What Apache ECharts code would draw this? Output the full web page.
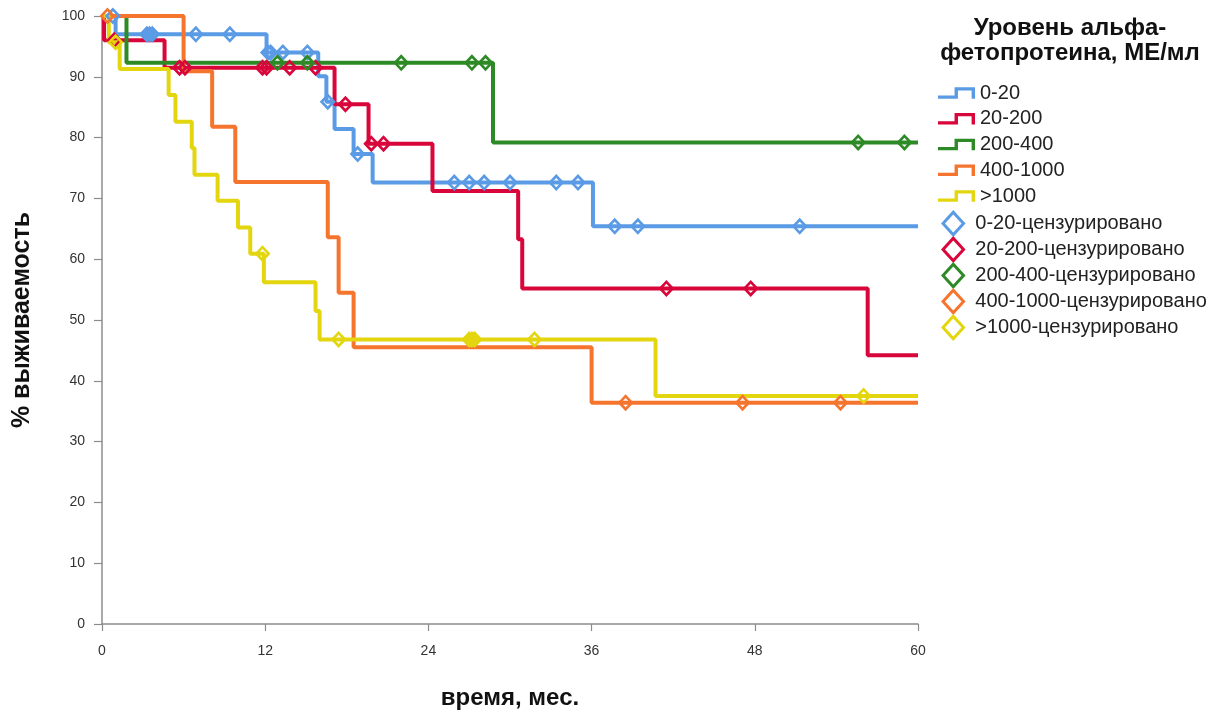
<!DOCTYPE html>
<html>
<head>
<meta charset="utf-8">
<script src="https://cdn.jsdelivr.net/npm/echarts@6/dist/echarts.min.js"></script>
<style>
html,body{margin:0;padding:0;background:#fff;}
#chart{width:1218px;height:715px;}
</style>
</head>
<body>
<div id="chart"></div>
<script>
// ---- Data ----
const groupNames = ['0-20', '20-200', '200-400', '400-1000', '>1000'];
const censorSuffix = '-цензурировано';
const colors = ['#5b9be6', '#d8063b', '#2e8a26', '#f5752f', '#e3d60f'];

// Kaplan–Meier steps: time (months) where survival changes, survival (%) from that time on
const times0_20   = [0, 1.0, 12.1, 15.9, 16.5, 17.1, 18.5, 19.9, 36.1, 60];
const surv0_20    = [100, 97.0, 94.0, 90.1, 85.9, 81.4, 77.3, 72.6, 65.4, 65.4];
const cens0_20    = [0.8, 3.3, 3.5, 3.7, 6.9, 9.4, 12.2, 12.4, 13.3, 15.1, 16.6, 18.8, 25.9, 27.0, 28.1, 30.0, 33.4, 35.0, 37.7, 39.4, 51.3];

const times20_200 = [0, 0.15, 4.6, 17.1, 19.6, 24.3, 30.6, 30.9, 56.3, 60];
const surv20_200  = [100, 96.0, 91.5, 85.5, 79.0, 71.2, 63.3, 55.2, 44.2, 44.2];
const cens20_200  = [0.9, 5.7, 6.1, 11.8, 12.1, 13.8, 15.7, 17.9, 19.8, 20.7, 41.5, 47.7];

const times200_400 = [0, 1.8, 28.75, 60];
const surv200_400  = [100, 92.3, 79.2, 79.2];
const cens200_400  = [12.9, 15.1, 22.0, 27.2, 28.2, 55.6, 59.0];

const times400_1000 = [0, 6.0, 8.1, 9.8, 16.6, 17.4, 18.5, 36.0, 60];
const surv400_1000  = [100, 90.9, 81.8, 72.7, 63.6, 54.5, 45.5, 36.4, 36.4];
const cens400_1000  = [0.4, 38.5, 47.1, 54.3];

const timesOver1000 = [0, 0.5, 1.3, 4.9, 5.4, 6.6, 6.8, 8.5, 10.0, 10.9, 11.9, 15.7, 16.0, 40.7, 60];
const survOver1000  = [100, 95.7, 91.3, 87.0, 82.6, 78.3, 73.9, 69.6, 65.2, 60.9, 56.2, 51.5, 46.8, 37.5, 37.5];
const censOver1000  = [1.0, 11.8, 17.4, 27.0, 27.2, 27.4, 31.8, 56.0];

const xTicks = [0, 12, 24, 36, 48, 60];
const yTicks = [0, 10, 20, 30, 40, 50, 60, 70, 80, 90, 100];

const yTitle = '% выживаемость';
const xTitle = 'время, мес.';
const legendTitle = 'Уровень альфа-\nфетопротеина, МЕ/мл';

// ---- Build ----
const allTimes = [times0_20, times20_200, times200_400, times400_1000, timesOver1000];
const allSurv  = [surv0_20, surv20_200, surv200_400, surv400_1000, survOver1000];
const allCens  = [cens0_20, cens20_200, cens200_400, cens400_1000, censOver1000];

function survAt(times, surv, t) {
  let v = surv[0];
  for (let i = 0; i < times.length; i++) if (times[i] <= t) v = surv[i];
  return v;
}

const diamondPlot = 'path://M10,0 L20,11 L10,22 L0,11 Z M10,5 L4.55,11 L10,17 L15.45,11 Z';
const diamondLegend = 'path://M10,0 L20,11 L10,22 L0,11 Z M10,3.6 L3.27,11 L10,18.4 L16.73,11 Z';
const stepIcon = 'path://M0,8.5 L17,8.5 L17,0 L38,0 L38,12 L34.5,12 L34.5,3.5 L20.5,3.5 L20.5,12 L0,12 Z';

const FONT = '"Liberation Sans", Arial, sans-serif';

const series = [];
groupNames.forEach((name, i) => {
  series.push({
    name: name,
    type: 'line',
    step: 'end',
    showSymbol: false,
    symbol: 'none',
    data: allTimes[i].map((t, k) => [t, allSurv[i][k]]),
    lineStyle: { color: colors[i], width: 4 },
    itemStyle: { color: colors[i] },
    z: 2,
    animation: false
  });
});
groupNames.forEach((name, i) => {
  series.push({
    name: name + censorSuffix,
    type: 'scatter',
    symbol: diamondPlot,
    symbolSize: [16, 17],
    data: allCens[i].map(t => [t, survAt(allTimes[i], allSurv[i], t)]),
    itemStyle: { color: colors[i], opacity: 1 },
    z: 3,
    animation: false
  });
});

const chart = echarts.init(document.getElementById('chart'), null, { renderer: 'canvas' });
chart.setOption({
  backgroundColor: '#ffffff',
  animation: false,
  grid: { left: 102, right: 300, top: 16, bottom: 89, containLabel: false },
  xAxis: {
    type: 'value',
    min: xTicks[0],
    max: xTicks[xTicks.length - 1],
    interval: 12,
    name: xTitle,
    nameLocation: 'middle',
    nameGap: 62,
    nameTextStyle: { fontFamily: FONT, fontSize: 24, fontWeight: 'bold', color: '#111' },
    axisLine: { show: true, onZero: false, lineStyle: { color: '#8c8c8c', width: 1.5 } },
    axisTick: { show: true, length: 7, lineStyle: { color: '#8c8c8c', width: 1.2 } },
    axisLabel: { fontFamily: FONT, fontSize: 14, color: '#333', margin: 20,
      formatter: v => xTicks.includes(v) ? String(v) : '' },
    splitLine: { show: false }
  },
  yAxis: {
    type: 'value',
    min: yTicks[0],
    max: yTicks[yTicks.length - 1],
    interval: 10,
    name: yTitle,
    nameLocation: 'middle',
    nameGap: 67,
    nameRotate: 90,
    nameTextStyle: { fontFamily: FONT, fontSize: 25, fontWeight: 'bold', color: '#111' },
    axisLine: { show: true, onZero: false, lineStyle: { color: '#8c8c8c', width: 1.5 } },
    axisTick: { show: true, length: 8, lineStyle: { color: '#8c8c8c', width: 1.2 } },
    axisLabel: { fontFamily: FONT, fontSize: 14, color: '#333', margin: 17,
      formatter: v => yTicks.includes(v) ? String(v) : '' },
    splitLine: { show: false }
  },
  legend: [
    {
      orient: 'vertical',
      left: 933,
      top: 78,
      itemWidth: 37,
      itemHeight: 12,
      itemGap: 5.75,
      selectedMode: false,
      textStyle: { fontFamily: FONT, fontSize: 20, color: '#222', lineHeight: 20 },
      data: groupNames.map(n => ({ name: n, icon: stepIcon, lineStyle: { width: 0 } }))
    },
    {
      orient: 'vertical',
      left: 936,
      top: 205,
      itemWidth: 26,
      itemHeight: 27,
      itemGap: -1,
      selectedMode: false,
      textStyle: { fontFamily: FONT, fontSize: 20, color: '#222', lineHeight: 20, padding: [0, 0, 0, 4] },
      data: groupNames.map(n => ({ name: n + censorSuffix, icon: diamondLegend }))
    }
  ],
  graphic: [
    {
      type: 'text',
      x: 1070,
      y: 16,
      style: {
        text: legendTitle,
        font: 'bold 24px ' + FONT,
        textAlign: 'center',
        textVerticalAlign: 'top',
        lineHeight: 25,
        fill: '#111'
      }
    }
  ],
  series: series
});
</script>
</body>
</html>
